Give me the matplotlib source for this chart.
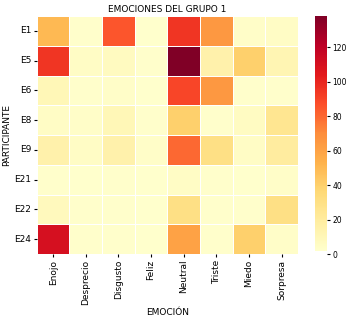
import numpy as np
import pandas as pd
import seaborn as sns
from matplotlib import pyplot as plt

# Data
emociones = ['Enojo', 'Desprecio', 'Disgusto', 'Feliz', 'Neutral', 'Triste', 'Miedo', 'Sorpresa']
participantes = ['E1', 'E5', 'E6', 'E8', 'E9', 'E21', 'E22', 'E24']

E1 = [50, 3, 85, 2, 95, 65, 4, 5]
E5 = [95, 5, 7, 3, 138, 15, 40, 12]
E6 = [10, 3, 4, 2, 90, 65, 3, 3]
E8 = [5, 4, 10, 3, 40, 3, 6, 25]
E9 = [15, 5, 15, 4, 80, 30, 5, 20]
E21 = [3, 2, 3, 2, 5, 3, 2, 4]
E22 = [8, 3, 3, 2, 30, 3, 3, 30]
E24 = [110, 3, 3, 2, 60, 3, 40, 4]

df = pd.DataFrame([E1, E5, E6, E8, E9, E21, E22, E24], index=participantes, columns=emociones)

fig = plt.figure(figsize=(3.51, 3.22), dpi=100)
ax = fig.add_axes([0.105, 0.211, 0.744, 0.739])
cax = fig.add_axes([0.897, 0.211, 0.034, 0.739])

sns.heatmap(df, cmap='YlOrRd', linewidths=0.5, linecolor='white', ax=ax, cbar_ax=cax)

ax.set_title('EMOCIONES DEL GRUPO 1', fontsize=6.5, pad=3)
ax.set_xlabel('EMOCIÓN', fontsize=6.5, labelpad=2)
ax.set_ylabel('PARTICIPANTE', fontsize=6.5, labelpad=2)
ax.tick_params(labelsize=6.5, length=2, pad=2)
plt.setp(ax.get_xticklabels(), rotation=90)
plt.setp(ax.get_yticklabels(), rotation=0)
cax.tick_params(labelsize=5.5, length=2, pad=2)
cax.set_yticks([0, 20, 40, 60, 80, 100, 120])

fig.savefig('out.png', dpi=100)
